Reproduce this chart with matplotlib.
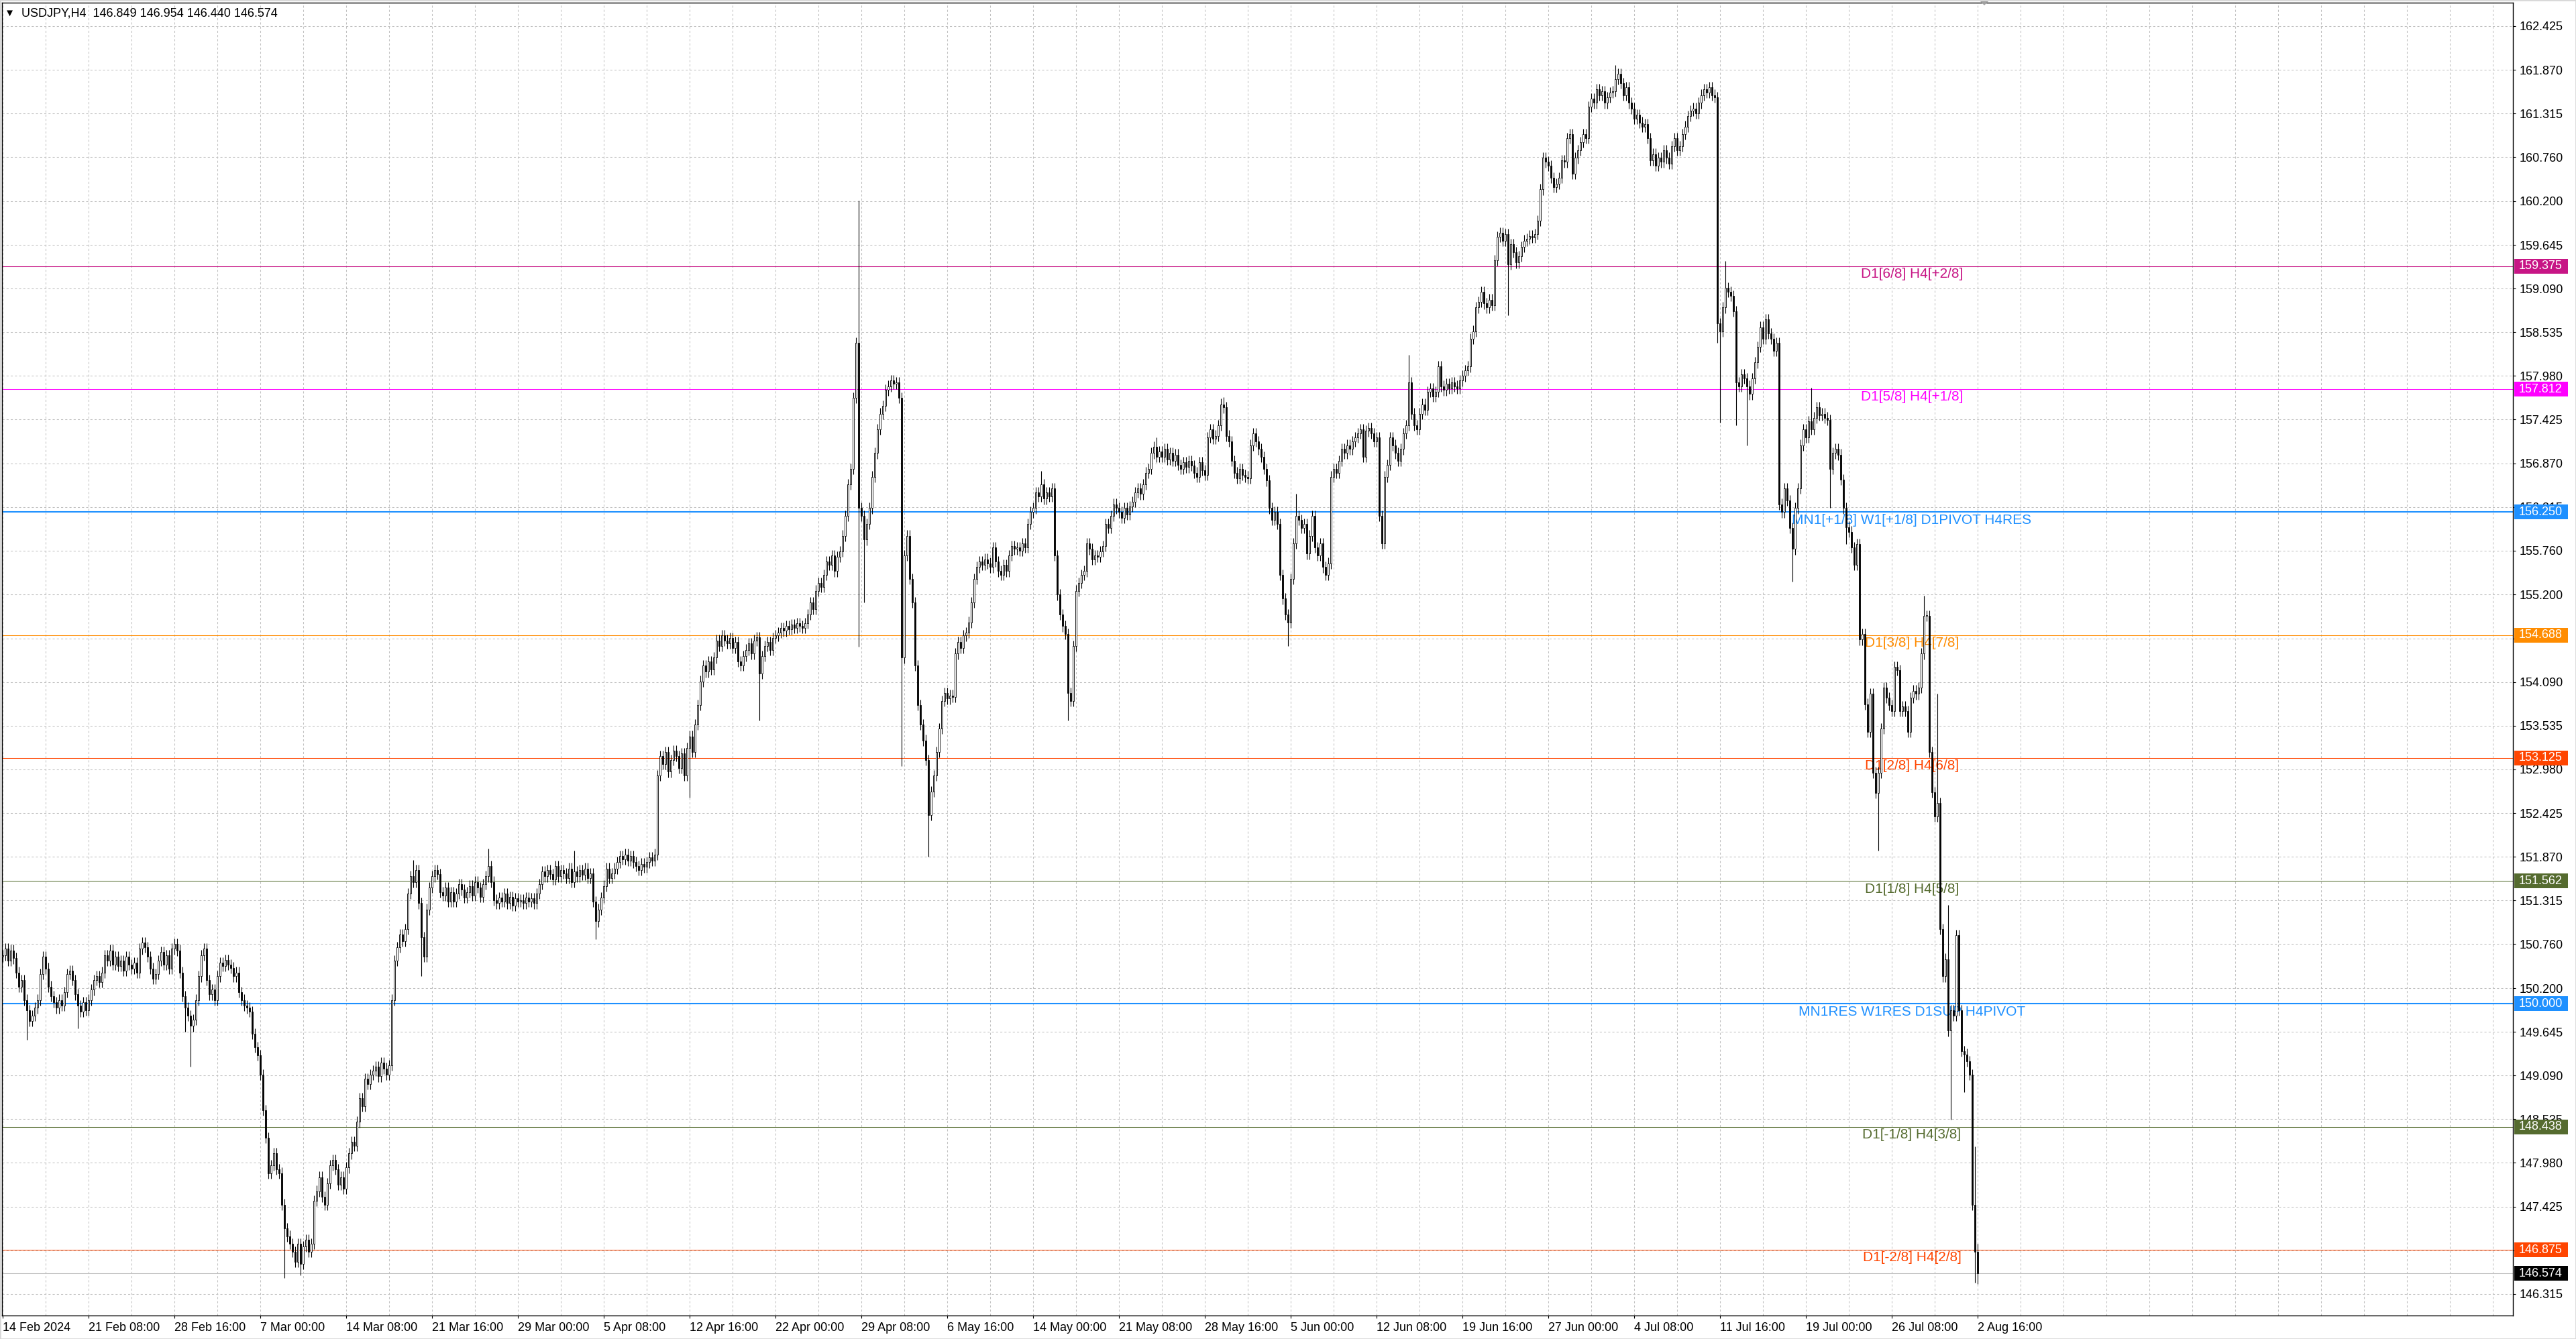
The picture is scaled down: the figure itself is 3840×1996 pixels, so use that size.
import matplotlib
matplotlib.use('Agg')
import matplotlib.pyplot as plt
from matplotlib.patches import Rectangle, Polygon
from matplotlib.transforms import blended_transform_factory

plt.rcParams['font.family'] = ['Liberation Sans', 'DejaVu Sans']

# USDJPY H4 closes, one row per trading day (6 bars), from Wed 14 Feb 2024 00:00
first_open = 150.60
closes = [
    # 14-16 Feb
    150.62, 150.70, 150.55, 150.68, 150.58, 150.40,
    150.22, 150.30, 150.05, 149.92, 149.78, 149.85,
    149.95, 150.05, 150.38, 150.60, 150.45, 150.22,
    # 19-23 Feb
    150.10, 150.02, 149.95, 150.05, 149.98, 150.15,
    150.38, 150.42, 150.30, 150.12, 149.98, 149.90,
    150.02, 149.92, 150.05, 150.18, 150.30, 150.35,
    150.28, 150.40, 150.62, 150.55, 150.68, 150.50,
    150.60, 150.48, 150.55, 150.42, 150.60, 150.50,
    # 26 Feb - 1 Mar
    150.45, 150.52, 150.40, 150.70, 150.78, 150.72,
    150.60, 150.45, 150.32, 150.38, 150.55, 150.66,
    150.50, 150.62, 150.45, 150.70, 150.76, 150.68,
    150.40, 150.10, 149.95, 149.85, 149.72, 149.80,
    150.05, 150.35, 150.62, 150.70, 150.30, 150.12,
    # 4-8 Mar
    150.18, 150.05, 150.35, 150.52, 150.48, 150.56,
    150.50, 150.46, 150.35, 150.40, 150.15, 150.05,
    149.98, 149.95, 149.90, 149.62, 149.45, 149.35,
    149.10, 148.65, 148.30, 147.85, 147.95, 148.10,
    147.90, 147.85, 147.45, 147.15, 147.05, 146.95,
    # 11-15 Mar
    146.85, 146.72, 146.95, 146.70, 146.92, 147.00,
    146.85, 146.95, 147.50, 147.62, 147.80, 147.55,
    147.45, 147.72, 147.95, 148.02, 147.90, 147.70,
    147.80, 147.65, 147.92, 148.10, 148.25, 148.20,
    148.50, 148.80, 148.70, 149.05, 148.98, 149.10,
    # 18-22 Mar
    149.15, 149.20, 149.08, 149.25, 149.18, 149.10,
    149.22, 150.05, 150.55, 150.72, 150.88, 150.80,
    150.95, 151.40, 151.62, 151.55, 151.70, 151.28,
    150.85, 150.60, 151.20, 151.48, 151.62, 151.70,
    151.65, 151.42, 151.38, 151.48, 151.30, 151.42,
    # 25-29 Mar
    151.30, 151.40, 151.52, 151.45, 151.35, 151.42,
    151.50, 151.38, 151.55, 151.48, 151.36, 151.52,
    151.62, 151.75, 151.55, 151.32, 151.28, 151.35,
    151.30, 151.40, 151.28, 151.36, 151.25, 151.34,
    151.30, 151.32, 151.28, 151.35, 151.30, 151.34,
    # 1-5 Apr
    151.28, 151.40, 151.52, 151.68, 151.62, 151.70,
    151.65, 151.58, 151.75, 151.62, 151.70, 151.66,
    151.60, 151.72, 151.55, 151.68, 151.62, 151.70,
    151.64, 151.72, 151.60, 151.66, 151.30, 151.05,
    151.20, 151.35, 151.50, 151.72, 151.60, 151.66,
    # 8-12 Apr
    151.72, 151.80, 151.88, 151.84, 151.90, 151.82,
    151.88, 151.80, 151.75, 151.70, 151.78, 151.74,
    151.80, 151.86, 151.82, 151.90, 152.90, 153.15,
    153.05, 153.20, 152.95, 153.10, 153.22, 153.15,
    153.00, 153.18, 152.90, 153.25, 153.40, 153.20,
    # 15-19 Apr
    153.55, 153.80, 154.10, 154.30, 154.22, 154.35,
    154.25, 154.40, 154.62, 154.55, 154.68, 154.62,
    154.58, 154.65, 154.52, 154.60, 154.35, 154.30,
    154.42, 154.50, 154.58, 154.45, 154.62, 154.66,
    154.20, 154.42, 154.55, 154.60, 154.50, 154.65,
    # 22-26 Apr
    154.68, 154.72, 154.78, 154.74, 154.80, 154.76,
    154.82, 154.78, 154.84, 154.80, 154.78, 154.84,
    154.95, 155.10, 155.02, 155.25, 155.35, 155.30,
    155.45, 155.62, 155.58, 155.70, 155.50, 155.68,
    155.75, 155.95, 156.20, 156.60, 156.80, 157.70,
    # 29 Apr - 3 May
    158.40, 156.30, 156.20, 155.90, 156.10, 156.30,
    156.70, 157.00, 157.30, 157.50, 157.60, 157.80,
    157.85, 157.92, 157.88, 157.90, 157.70, 154.40,
    155.70, 155.95, 155.40, 155.10, 154.30, 153.80,
    153.55, 153.35, 153.10, 152.40, 152.70, 152.90,
    # 6-10 May
    153.20, 153.50, 153.85, 153.95, 153.88, 153.92,
    153.90, 154.45, 154.60, 154.52, 154.68, 154.72,
    154.85, 155.10, 155.40, 155.55, 155.62, 155.58,
    155.65, 155.60, 155.55, 155.80, 155.62, 155.50,
    155.45, 155.58, 155.50, 155.70, 155.82, 155.78,
    # 13-17 May
    155.80, 155.76, 155.85, 155.80, 156.10, 156.25,
    156.30, 156.50, 156.45, 156.60, 156.42, 156.50,
    156.45, 156.55, 155.70, 155.20, 154.95, 154.80,
    154.70, 153.95, 153.85, 154.55, 155.25, 155.35,
    155.45, 155.50, 155.85, 155.78, 155.65, 155.70,
    # 20-24 May
    155.68, 155.75, 155.82, 156.10, 156.05, 156.20,
    156.35, 156.30, 156.25, 156.18, 156.30, 156.22,
    156.32, 156.38, 156.50, 156.55, 156.48, 156.60,
    156.75, 156.80, 157.00, 157.08, 156.95, 157.02,
    156.95, 157.05, 156.92, 157.00, 156.90, 156.98,
    # 27-31 May
    156.85, 156.80, 156.88, 156.82, 156.90, 156.84,
    156.75, 156.70, 156.88, 156.78, 156.72, 157.20,
    157.30, 157.18, 157.22, 157.35, 157.62, 157.58,
    157.22, 157.15, 156.90, 156.75, 156.68, 156.80,
    156.72, 156.70, 156.68, 157.10, 157.25, 157.15,
    # 3-7 Jun
    157.05, 156.95, 156.80, 156.65, 156.30, 156.15,
    156.25, 156.10, 155.45, 155.15, 154.95, 154.85,
    155.40, 155.85, 156.20, 156.15, 156.05, 156.10,
    155.72, 155.95, 156.20, 155.80, 155.70, 155.85,
    155.55, 155.45, 155.60, 156.70, 156.80, 156.75,
    # 10-14 Jun
    156.90, 157.05, 157.00, 157.10, 157.05, 157.15,
    157.20, 157.25, 157.30, 156.95, 157.28, 157.32,
    157.25, 157.15, 157.20, 156.20, 155.85, 156.70,
    156.85, 157.20, 157.10, 157.00, 156.90, 157.05,
    157.25, 157.35, 157.90, 157.50, 157.35, 157.30,
    # 17-21 Jun
    157.50, 157.62, 157.55, 157.78, 157.82, 157.72,
    157.78, 158.10, 157.85, 157.80, 157.88, 157.82,
    157.90, 157.85, 157.82, 157.92, 157.98, 158.05,
    158.10, 158.45, 158.55, 158.85, 158.92, 159.05,
    158.90, 158.85, 158.95, 158.88, 159.45, 159.75,
    # 24-28 Jun
    159.80, 159.70, 159.78, 159.40, 159.65, 159.55,
    159.42, 159.50, 159.62, 159.70, 159.72, 159.76,
    159.74, 159.78, 159.95, 160.35, 160.75, 160.70,
    160.65, 160.50, 160.38, 160.42, 160.50, 160.72,
    160.70, 161.00, 161.05, 160.55, 160.75, 160.85,
    # 1-5 Jul
    160.95, 161.05, 161.00, 161.40, 161.50, 161.45,
    161.62, 161.55, 161.60, 161.45, 161.52, 161.58,
    161.60, 161.75, 161.82, 161.70, 161.55, 161.65,
    161.45, 161.38, 161.25, 161.30, 161.20, 161.15,
    161.18, 161.00, 160.72, 160.80, 160.65, 160.75,
    # 8-12 Jul
    160.70, 160.85, 160.75, 160.68, 160.90, 161.00,
    160.85, 160.90, 161.05, 161.15, 161.28, 161.35,
    161.38, 161.32, 161.45, 161.55, 161.62, 161.58,
    161.65, 161.55, 161.52, 158.65, 158.55, 158.85,
    159.10, 159.05, 159.00, 158.80, 157.90, 157.85,
    # 15-19 Jul
    158.00, 157.95, 157.85, 157.75, 157.95, 158.15,
    158.35, 158.60, 158.45, 158.70, 158.52, 158.45,
    158.30, 158.40, 156.35, 156.25, 156.55, 156.40,
    156.05, 155.78, 156.30, 156.55, 157.10, 157.30,
    157.20, 157.40, 157.30, 157.45, 157.58, 157.48,
    # 22-26 Jul
    157.50, 157.45, 157.42, 156.80, 157.00, 157.05,
    156.98, 156.66, 156.30, 156.06, 156.00, 155.80,
    155.58, 155.84, 154.63, 154.70, 153.81, 153.46,
    153.94, 152.94, 152.68, 152.94, 153.50, 154.02,
    153.89, 153.80, 153.72, 154.28, 154.24, 153.72,
    # 29 Jul - 2 Aug 16:00
    153.78, 153.72, 153.46, 153.89, 153.98, 153.94,
    154.02, 154.45, 154.93, 154.93, 153.20, 152.69,
    152.38, 152.55, 150.95, 150.35, 150.57, 149.66,
    149.92, 149.85, 150.87, 149.92, 149.40, 149.36,
    149.27, 149.10, 147.45, 146.849, 146.574,
]

# bars whose wicks stick out well beyond the body
spike_highs = {153: 151.83, 181: 151.97, 213: 151.95, 319: 160.21, 387: 156.77,
               430: 157.20, 455: 157.71, 482: 156.48, 524: 158.25, 601: 161.93,
               642: 159.44, 674: 157.83, 716: 155.19, 721: 153.94, 725: 151.26,
               735: 148.19, 736: 146.954}
spike_lows = {9: 149.54, 28: 149.69, 68: 149.65, 70: 149.20, 105: 146.52,
              111: 146.55, 156: 150.35, 221: 150.82, 256: 152.62, 282: 153.60,
              319: 154.54, 321: 155.10, 335: 153.02, 345: 151.87, 397: 153.60,
              479: 154.55, 561: 158.75, 639: 158.40, 640: 157.39, 646: 157.35,
              650: 157.10, 667: 155.37, 681: 156.30, 687: 155.84, 699: 151.95,
              726: 148.53, 731: 148.88, 735: 146.46, 736: 146.440}

y_ticks = [162.425, 161.870, 161.315, 160.760, 160.200, 159.645, 159.090,
           158.535, 157.980, 157.425, 156.870, 156.315, 155.760, 155.200,
           154.645, 154.090, 153.535, 152.980, 152.425, 151.870, 151.315,
           150.760, 150.200, 149.645, 149.090, 148.535, 147.980, 147.425,
           146.870, 146.315]

x_labels = ['14 Feb 2024', '21 Feb 08:00', '28 Feb 16:00', '7 Mar 00:00',
            '14 Mar 08:00', '21 Mar 16:00', '29 Mar 00:00', '5 Apr 08:00',
            '12 Apr 16:00', '22 Apr 00:00', '29 Apr 08:00', '6 May 16:00',
            '14 May 00:00', '21 May 08:00', '28 May 16:00', '5 Jun 00:00',
            '12 Jun 08:00', '19 Jun 16:00', '27 Jun 00:00', '4 Jul 08:00',
            '11 Jul 16:00', '19 Jul 00:00', '26 Jul 08:00', '2 Aug 16:00']

levels = [159.375, 157.812, 156.250, 154.688, 153.125, 151.562, 150.000, 148.438, 146.875]
level_names = ['D1[6/8] H4[+2/8]', 'D1[5/8] H4[+1/8]', 'MN1[+1/8] W1[+1/8] D1PIVOT H4RES',
               'D1[3/8] H4[7/8]', 'D1[2/8] H4[6/8]', 'D1[1/8] H4[5/8]',
               'MN1RES W1RES D1SUP H4PIVOT', 'D1[-1/8] H4[3/8]', 'D1[-2/8] H4[2/8]']
level_colors = ['#C71585', '#FF00FF', '#1E90FF', '#FF8C00', '#FF4500',
                '#556B2F', '#1E90FF', '#556B2F', '#FF4500']
level_widths = [0.75, 0.75, 1.5, 0.75, 0.75, 0.75, 1.5, 0.75, 0.75]

last_price = 146.574
title = 'USDJPY,H4  146.849 146.954 146.440 146.574'

W, H = 3840, 1996
fig = plt.figure(figsize=(W / 100, H / 100), dpi=100)
ax = fig.add_axes([3 / W, 35 / H, 3743 / W, 1957 / H])
ax.set_xlim(-0.25, 935.5)
ax.set_ylim(146.040, 162.723)

# grid
for y in y_ticks:
    ax.axhline(y, color='#c0c0c0', lw=0.75, ls=(0, (3, 3)), zorder=0.5)
for x in range(0, 936, 16):
    ax.axvline(x, color='#c0c0c0', lw=0.75, ls=(0, (3, 3)), zorder=0.5)

# levels and their names
for lv, name, col, lw in zip(levels, level_names, level_colors, level_widths):
    ax.axhline(lv, color=col, lw=lw, zorder=1)
    ax.text(711.5, lv - 0.02, name, color=col, fontsize=15, ha='center', va='top', zorder=1.5)
ax.axhline(last_price, color='#c0c0c0', lw=0.75, zorder=1)

# candles
opens = [first_open] + closes[:-1]
wick = 0.07
for i, (o, c) in enumerate(zip(opens, closes)):
    hi = spike_highs.get(i, max(o, c) + wick)
    lo = spike_lows.get(i, min(o, c) - wick)
    ax.vlines(i, lo, hi, color='black', lw=0.8, zorder=2)
    face = 'white' if c >= o else 'black'
    ax.bar(i, max(abs(c - o), 0.012), bottom=min(o, c), width=0.72,
           color=face, edgecolor='black', linewidth=0.6, zorder=2.5)

# axes look
for s in ax.spines.values():
    s.set_color('black')
    s.set_linewidth(1.0)
ax.yaxis.tick_right()
ax.set_yticks(y_ticks)
ax.set_yticklabels(['%.3f' % v for v in y_ticks])
ax.tick_params(axis='y', length=3, width=0.8, pad=4, labelsize=13)
ax.set_xticks(range(0, 737, 32))
ax.set_xticklabels(x_labels)
ax.tick_params(axis='x', length=3, width=0.8, pad=4, labelsize=13)
for lbl in ax.get_xticklabels():
    lbl.set_ha('left')

# price tags on the right scale
tr = blended_transform_factory(fig.transFigure, ax.transData)
tags = levels + [last_price]
tag_colors = level_colors + ['black']
for lv, col in zip(tags, tag_colors):
    fig.add_artist(Rectangle((3748 / W, lv - 0.094), 80 / W, 0.188, transform=tr,
                             facecolor=col, edgecolor='none', zorder=10))
    fig.add_artist(plt.Text(3755 / W, lv, '%.3f' % lv, color='white', fontsize=13,
                            va='center', ha='left', transform=tr, zorder=11))

# header
fig.text(7 / W, 1 - 20 / H, '\u25bc', fontsize=11, va='center', ha='left')
fig.text(32 / W, 1 - 20 / H, title, fontsize=13, va='center', ha='left')

# chart shift marker and outer border
fig.add_artist(Polygon([(2950 / W, 1), (2966 / W, 1), (2958 / W, 1 - 8 / H)],
                       closed=True, facecolor='#a0a0a0', edgecolor='none',
                       transform=fig.transFigure, zorder=12))
fig.add_artist(Rectangle((0, 0), 1, 1, transform=fig.transFigure, fill=False,
                         edgecolor='#d8d8d8', lw=2, zorder=12))

fig.savefig('out.png', dpi=100, facecolor='white')
